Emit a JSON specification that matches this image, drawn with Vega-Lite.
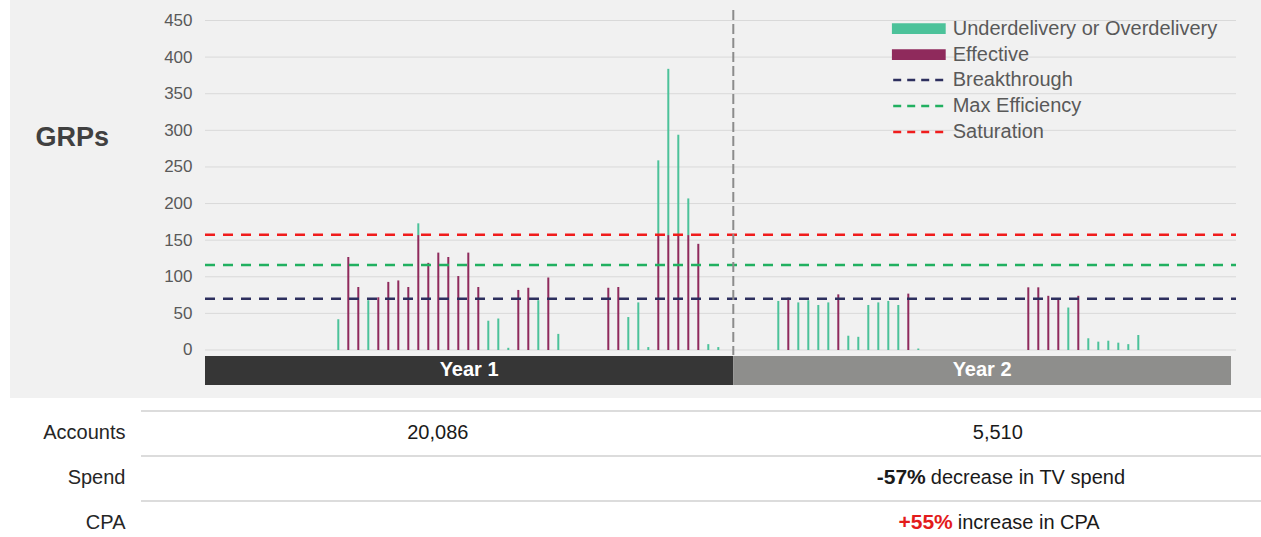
{
  "$schema": "https://vega.github.io/schema/vega-lite/v6.json",
  "background": "white",
  "padding": {"left": 10, "top": 0, "right": 0, "bottom": 0},
  "spacing": 0,
  "config": {"view": {"stroke": null}, "font": "Liberation Sans", "concat": {"spacing": 0}},
  "datasets": {
    "grps": [
      {"week": 14, "series": "Underdelivery or Overdelivery", "grps": 42},
      {"week": 15, "series": "Effective", "grps": 127},
      {"week": 16, "series": "Effective", "grps": 86},
      {"week": 17, "series": "Underdelivery or Overdelivery", "grps": 68},
      {"week": 18, "series": "Effective", "grps": 72},
      {"week": 19, "series": "Effective", "grps": 93},
      {"week": 20, "series": "Effective", "grps": 95},
      {"week": 21, "series": "Effective", "grps": 86},
      {"week": 22, "series": "Effective", "grps": 157},
      {"week": 22, "series": "Underdelivery or Overdelivery", "grps": 16},
      {"week": 23, "series": "Effective", "grps": 119},
      {"week": 24, "series": "Effective", "grps": 133},
      {"week": 25, "series": "Effective", "grps": 127},
      {"week": 26, "series": "Effective", "grps": 101},
      {"week": 27, "series": "Effective", "grps": 133},
      {"week": 28, "series": "Effective", "grps": 86},
      {"week": 29, "series": "Underdelivery or Overdelivery", "grps": 40},
      {"week": 30, "series": "Underdelivery or Overdelivery", "grps": 43},
      {"week": 31, "series": "Underdelivery or Overdelivery", "grps": 3},
      {"week": 32, "series": "Effective", "grps": 82},
      {"week": 33, "series": "Effective", "grps": 85},
      {"week": 34, "series": "Underdelivery or Overdelivery", "grps": 68},
      {"week": 35, "series": "Effective", "grps": 99},
      {"week": 36, "series": "Underdelivery or Overdelivery", "grps": 22},
      {"week": 41, "series": "Effective", "grps": 85},
      {"week": 42, "series": "Effective", "grps": 86},
      {"week": 43, "series": "Underdelivery or Overdelivery", "grps": 45},
      {"week": 44, "series": "Underdelivery or Overdelivery", "grps": 65},
      {"week": 45, "series": "Underdelivery or Overdelivery", "grps": 4},
      {"week": 46, "series": "Effective", "grps": 157},
      {"week": 46, "series": "Underdelivery or Overdelivery", "grps": 102},
      {"week": 47, "series": "Effective", "grps": 157},
      {"week": 47, "series": "Underdelivery or Overdelivery", "grps": 227},
      {"week": 48, "series": "Effective", "grps": 157},
      {"week": 48, "series": "Underdelivery or Overdelivery", "grps": 137},
      {"week": 49, "series": "Effective", "grps": 157},
      {"week": 49, "series": "Underdelivery or Overdelivery", "grps": 50},
      {"week": 50, "series": "Effective", "grps": 145},
      {"week": 51, "series": "Underdelivery or Overdelivery", "grps": 8},
      {"week": 52, "series": "Underdelivery or Overdelivery", "grps": 4},
      {"week": 58, "series": "Underdelivery or Overdelivery", "grps": 67},
      {"week": 59, "series": "Effective", "grps": 71.5},
      {"week": 60, "series": "Underdelivery or Overdelivery", "grps": 65},
      {"week": 61, "series": "Underdelivery or Overdelivery", "grps": 68},
      {"week": 62, "series": "Underdelivery or Overdelivery", "grps": 61.5},
      {"week": 63, "series": "Underdelivery or Overdelivery", "grps": 65},
      {"week": 64, "series": "Effective", "grps": 76},
      {"week": 65, "series": "Underdelivery or Overdelivery", "grps": 19.5},
      {"week": 66, "series": "Underdelivery or Overdelivery", "grps": 18},
      {"week": 67, "series": "Underdelivery or Overdelivery", "grps": 61.5},
      {"week": 68, "series": "Underdelivery or Overdelivery", "grps": 65},
      {"week": 69, "series": "Underdelivery or Overdelivery", "grps": 67},
      {"week": 70, "series": "Underdelivery or Overdelivery", "grps": 61.5},
      {"week": 71, "series": "Effective", "grps": 77},
      {"week": 72, "series": "Underdelivery or Overdelivery", "grps": 2},
      {"week": 83, "series": "Effective", "grps": 85.6},
      {"week": 84, "series": "Effective", "grps": 85.6},
      {"week": 85, "series": "Effective", "grps": 74},
      {"week": 86, "series": "Effective", "grps": 70.5},
      {"week": 87, "series": "Underdelivery or Overdelivery", "grps": 58},
      {"week": 88, "series": "Effective", "grps": 74},
      {"week": 89, "series": "Underdelivery or Overdelivery", "grps": 16},
      {"week": 90, "series": "Underdelivery or Overdelivery", "grps": 11.4},
      {"week": 91, "series": "Underdelivery or Overdelivery", "grps": 12.7},
      {"week": 92, "series": "Underdelivery or Overdelivery", "grps": 10},
      {"week": 93, "series": "Underdelivery or Overdelivery", "grps": 8},
      {"week": 94, "series": "Underdelivery or Overdelivery", "grps": 20.5}
    ],
    "lines": [
      {"name": "Breakthrough", "value": 70},
      {"name": "Max Efficiency", "value": 116},
      {"name": "Saturation", "value": 157.5}
    ],
    "years": [
      {"year": "Year 1", "start": 0.67, "end": 53.5, "mid": 27.08},
      {"year": "Year 2", "start": 53.5, "end": 103.27, "mid": 78.38}
    ],
    "ticks": [
      {"v": 0}, {"v": 50}, {"v": 100}, {"v": 150}, {"v": 200},
      {"v": 250}, {"v": 300}, {"v": 350}, {"v": 400}, {"v": 450}
    ],
    "table": [
      {"row": "Accounts", "col": "Year 1", "text": "20,086"},
      {"row": "Accounts", "col": "Year 2", "text": "5,510"},
      {"row": "Spend", "col": "Year 1", "text": ""},
      {"row": "Spend", "col": "Year 2", "lead": "-57%", "text": "decrease in TV spend"},
      {"row": "CPA", "col": "Year 1", "text": ""},
      {"row": "CPA", "col": "Year 2", "lead": "+55%", "text": "increase in CPA"}
    ]
  },
  "vconcat": [
    {
      "width": 1251,
      "height": 398,
      "view": {"fill": "#f1f1f1", "stroke": null},
      "layer": [
        {
          "data": {"name": "ticks"},
          "mark": {"type": "rule", "color": "#d9d9d9", "strokeWidth": 1},
          "encoding": {
            "y": {
              "field": "v", "type": "quantitative", "title": "GRPs",
              "scale": {"domain": [-65.56, 478.0], "nice": false, "zero": false, "padding": 0},
              "axis": {
                "values": [0, 50, 100, 150, 200, 250, 300, 350, 400, 450],
                "domain": false, "ticks": false, "grid": false, "zindex": 1,
                "labelPadding": -182, "labelAlign": "right", "labelFontSize": 17, "labelColor": "#595959",
                "title": "GRPs", "titleAngle": 0, "titleAlign": "left", "titleBaseline": "middle",
                "titleX": 25, "titleY": 137, "titleFontSize": 27, "titleFontWeight": "bold",
                "titleColor": "#404040"
              }
            },
            "x": {"datum": 0.67, "type": "quantitative", "scale": {"domain": [-18.83, 106.27], "nice": false, "zero": false, "padding": 0}, "axis": null},
            "x2": {"datum": 103.77}
          }
        },
        {
          "data": {"name": "years"},
          "mark": {"type": "rect"},
          "encoding": {
            "x": {"field": "start", "type": "quantitative", "axis": null},
            "x2": {"field": "end"},
            "y": {"datum": -8.2, "type": "quantitative"},
            "y2": {"datum": -47.8},
            "color": {"condition": {"test": "datum.year === 'Year 1'", "value": "#363636"}, "value": "#8e8e8c"}
          }
        },
        {
          "data": {"name": "grps"},
          "mark": {"type": "bar", "width": 2},
          "encoding": {
            "x": {"field": "week", "type": "quantitative", "axis": null},
            "y": {"field": "grps", "type": "quantitative", "stack": "zero", "title": "GRPs"},
            "order": {"field": "series", "sort": "ascending"},
            "fill": {
              "field": "series", "type": "nominal",
              "scale": {"domain": ["Underdelivery or Overdelivery", "Effective"], "range": ["#4cc29a", "#8f2a5c"]},
              "legend": {
                "orient": "none", "legendX": 881.7, "legendY": 18.7, "title": null, "padding": 0,
                "symbolType": "M-1,-0.2H1V0.2H-1Z", "symbolSize": 2916, "symbolStrokeWidth": 0,
                "clipHeight": 20, "rowPadding": 6, "labelOffset": 7,
                "labelFontSize": 20, "labelColor": "#595959", "labelLimit": 400
              }
            }
          }
        },
        {
          "data": {"name": "lines"},
          "mark": {"type": "rule", "strokeDash": [10, 8], "strokeWidth": 2.5},
          "encoding": {
            "y": {"field": "value", "type": "quantitative", "title": "GRPs"},
            "x": {"datum": 0.67, "type": "quantitative", "axis": null},
            "x2": {"datum": 103.77},
            "stroke": {
              "field": "name", "type": "nominal",
              "scale": {"domain": ["Breakthrough", "Max Efficiency", "Saturation"], "range": ["#2d2f5e", "#21b060", "#f01c1c"]},
              "legend": {
                "orient": "none", "legendX": 881.7, "legendY": 70, "title": null, "padding": 0,
                "symbolType": "stroke", "symbolSize": 2916, "symbolDash": [8, 6], "symbolStrokeWidth": 2.5,
                "clipHeight": 20, "rowPadding": 6, "labelOffset": 4,
                "labelFontSize": 20, "labelColor": "#595959", "labelLimit": 400
              }
            }
          }
        },
        {
          "data": {"name": "years"},
          "transform": [{"filter": "datum.year === 'Year 1'"}],
          "mark": {"type": "rule", "color": "#8c8c8c", "strokeWidth": 2, "strokeDash": [10, 4]},
          "encoding": {
            "x": {"field": "end", "type": "quantitative", "axis": null},
            "y": {"datum": 464.4, "type": "quantitative"},
            "y2": {"datum": -6.8}
          }
        },
        {
          "data": {"name": "years"},
          "mark": {"type": "text", "color": "white", "fontSize": 20, "fontWeight": "bold"},
          "encoding": {
            "x": {"field": "mid", "type": "quantitative", "axis": null},
            "y": {"datum": -28, "type": "quantitative"},
            "text": {"field": "year"}
          }
        }
      ]
    },
    {
      "width": 1251,
      "height": 139,
      "data": {"name": "table"},
      "view": {"stroke": null},
      "layer": [
        {
          "mark": {"type": "rule", "color": "#dcdcdc", "strokeWidth": 2},
          "encoding": {
            "x": {"field": "col", "type": "nominal", "bandPosition": 0,
                  "scale": {"type": "band", "domain": ["Year 1", "Year 2"], "paddingInner": 0, "paddingOuter": 0.11696, "align": 1},
                  "axis": null},
            "x2": {"field": "col", "bandPosition": 1},
            "y": {"field": "row", "type": "nominal", "bandPosition": 0, "title": null,
                  "scale": {"type": "band", "domain": ["Accounts", "Spend", "CPA"], "paddingInner": 0.2, "paddingOuter": 0.1444, "align": 1},
                  "axis": {"domain": false, "ticks": false, "grid": false, "zindex": 1, "labelPadding": -115, "labelAlign": "right",
                           "labelOffset": 4.5,
                           "labelFontSize": 20, "labelColor": "#262626", "title": null, "bandPosition": 0.6}}
          }
        },
        {
          "transform": [{"filter": "!datum.lead"}],
          "mark": {"type": "text", "fontSize": 20, "color": "#1a1a1a"},
          "encoding": {
            "x": {"field": "col", "type": "nominal", "bandPosition": 0.53, "axis": null},
            "y": {"field": "row", "type": "nominal", "bandPosition": 0.6, "title": null},
            "text": {"field": "text"}
          }
        },
        {
          "transform": [{"filter": "datum.row === 'Spend' && datum.lead"}],
          "mark": {"type": "text", "fontSize": 21, "fontWeight": "bold", "color": "#1a1a1a", "align": "right", "dx": -72},
          "encoding": {
            "x": {"field": "col", "type": "nominal", "bandPosition": 0.53, "axis": null},
            "y": {"field": "row", "type": "nominal", "bandPosition": 0.6, "title": null},
            "text": {"field": "lead"}
          }
        },
        {
          "transform": [{"filter": "datum.row === 'Spend' && datum.lead"}],
          "mark": {"type": "text", "fontSize": 20, "color": "#1a1a1a", "align": "left", "dx": -67},
          "encoding": {
            "x": {"field": "col", "type": "nominal", "bandPosition": 0.53, "axis": null},
            "y": {"field": "row", "type": "nominal", "bandPosition": 0.6, "title": null},
            "text": {"field": "text"}
          }
        },
        {
          "transform": [{"filter": "datum.row === 'CPA' && datum.lead"}],
          "mark": {"type": "text", "fontSize": 21, "fontWeight": "bold", "color": "#e31b1b", "align": "right", "dx": -45},
          "encoding": {
            "x": {"field": "col", "type": "nominal", "bandPosition": 0.53, "axis": null},
            "y": {"field": "row", "type": "nominal", "bandPosition": 0.6, "title": null},
            "text": {"field": "lead"}
          }
        },
        {
          "transform": [{"filter": "datum.row === 'CPA' && datum.lead"}],
          "mark": {"type": "text", "fontSize": 20, "color": "#1a1a1a", "align": "left", "dx": -40},
          "encoding": {
            "x": {"field": "col", "type": "nominal", "bandPosition": 0.53, "axis": null},
            "y": {"field": "row", "type": "nominal", "bandPosition": 0.6, "title": null},
            "text": {"field": "text"}
          }
        }
      ]
    }
  ]
}
